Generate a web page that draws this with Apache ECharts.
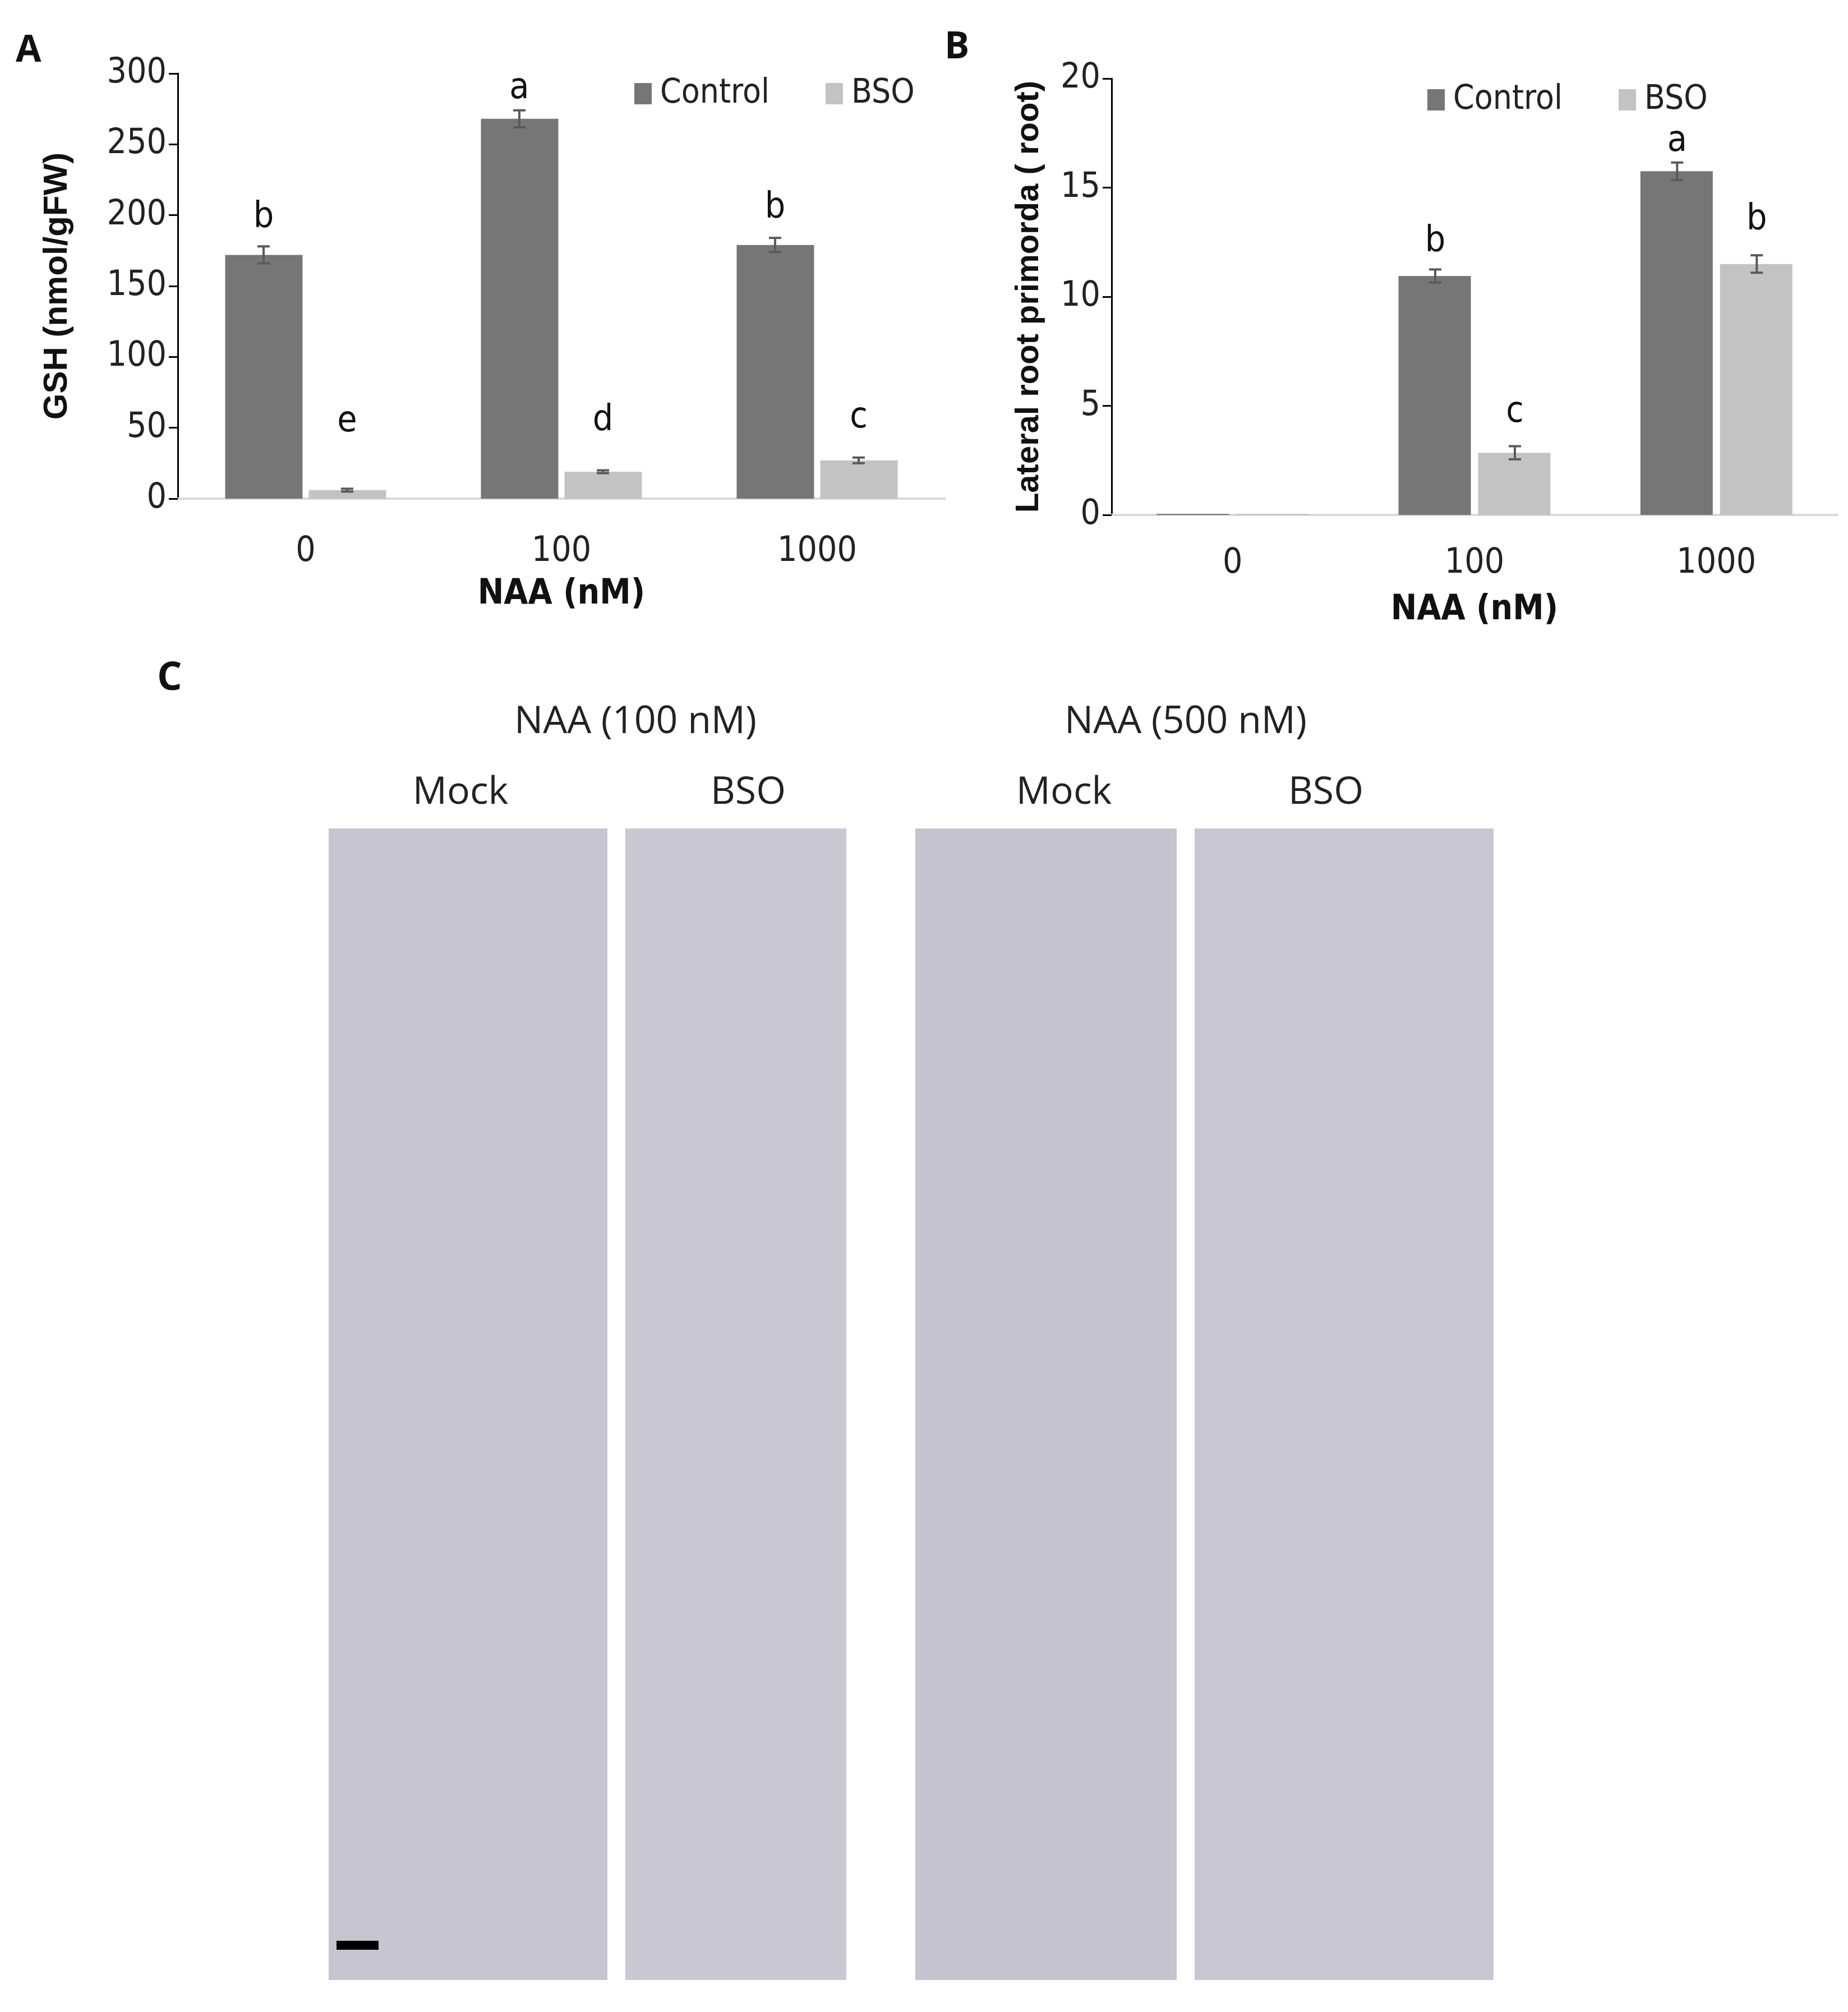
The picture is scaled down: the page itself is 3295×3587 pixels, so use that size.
<!DOCTYPE html>
<html><head><meta charset="utf-8">
<script src="https://cdn.jsdelivr.net/npm/echarts@6/dist/echarts.min.js"></script>
<style>html,body{margin:0;padding:0;background:#fff}#c{width:3295px;height:3587px}</style>
</head><body><div id="c"></div>
<script>
const categories = ['0','100','1000'];
const gshControl = [172, 268, 179];
const gshControlErr = [6, 6, 5];
const gshBSO = [6, 19, 27];
const gshBSOErr = [1, 1, 2];
const gshControlLetters = ['b','a','b'];
const gshBSOLetters = ['e','d','c'];
const gshControlLetterY = [198, 289, 205];
const gshBSOLetterY = [54, 55, 57];
const lrpControl = [0.05, 10.95, 15.75];
const lrpControlErr = [0, 0.3, 0.4];
const lrpBSO = [0.05, 2.85, 11.5];
const lrpBSOErr = [0, 0.3, 0.4];
const lrpControlLetters = ['', 'b', 'a'];
const lrpBSOLetters = ['', 'c', 'b'];
const lrpControlLetterY = [0, 12.5, 17.1];
const lrpBSOLetterY = [0, 4.7, 13.5];

const FONT = "'Liberation Sans Narrow','DejaVu Sans Condensed','Open Sans',sans-serif";
const C1 = '#767676', C2 = '#c3c3c3';

function errSeries(xi, vals, errs, letterY, letters, offset){
  return {
    type:'custom', xAxisIndex:xi, yAxisIndex:xi, z:10, silent:true,
    data: vals.map((v,i)=>[i, v, errs[i], letterY[i]]),
    renderItem:(params, api)=>{
      const i = api.value(0), v = api.value(1), e = api.value(2), ly = api.value(3);
      const letter = letters[i];
      const top = api.coord([i, v+e]), bot = api.coord([i, v-e]), c = api.coord([i, ly]);
      const x = top[0] + offset, hw = 11;
      const children = [];
      if (e > 0) {
        const st = {stroke:'#5a5a5a', lineWidth:4};
        children.push({type:'line', shape:{x1:x,y1:top[1],x2:x,y2:bot[1]}, style:st});
        children.push({type:'line', shape:{x1:x-hw,y1:top[1],x2:x+hw,y2:top[1]}, style:st});
        children.push({type:'line', shape:{x1:x-hw,y1:bot[1],x2:x+hw,y2:bot[1]}, style:st});
      }
      if (letter) children.push({type:'text', style:{text:letter, x:x, y:c[1], align:'center', verticalAlign:'middle', fontSize:64, fontFamily:FONT, fill:'#111'}});
      return {type:'group', children};
    }
  };
}

const chart = echarts.init(document.getElementById('c'));
const yAxisCommon = {
  type:'value', min:0, axisLine:{show:true, lineStyle:{color:'#000', width:3}},
  axisTick:{show:true, length:16, lineStyle:{color:'#000', width:3}},
  splitLine:{show:false},
  axisLabel:{fontSize:62, fontFamily:FONT, color:'#222', margin:20},
  nameLocation:'middle', nameTextStyle:{fontWeight:'bold', fontFamily:"'Liberation Sans',Arial,sans-serif", color:'#111'}
};
const xAxisCommon = {
  type:'category', axisLine:{lineStyle:{color:'#d9d9d9', width:4}}, axisTick:{show:false},
  axisLabel:{fontSize:62, fontFamily:FONT, color:'#222'},
  name:'NAA (nM)', nameLocation:'middle',
  nameTextStyle:{fontSize:62, fontWeight:'bold', fontFamily:FONT, color:'#111'}
};
const legendCommon = {selectedMode:false, itemWidth:31, itemHeight:38, itemGap:100, icon:'rect',
  textStyle:{fontSize:60, fontFamily:FONT, color:'#222', padding:[0,0,0,10]}, data:['Control','BSO']};

chart.setOption({
  animation:false,
  backgroundColor:'#fff',
  grid:[
    {left:317, right:1610, top:131, bottom:2698},
    {left:1982, right:19, top:140, bottom:2669}
  ],
  legend:[
    Object.assign({left:1126, top:132}, legendCommon),
    Object.assign({left:2540, top:143}, legendCommon)
  ],
  xAxis:[
    Object.assign({gridIndex:0, data:categories}, xAxisCommon, {axisLabel:Object.assign({margin:64}, xAxisCommon.axisLabel), nameGap:140}),
    Object.assign({gridIndex:1, data:categories}, xAxisCommon, {axisLabel:Object.assign({margin:56}, xAxisCommon.axisLabel), nameGap:139})
  ],
  yAxis:[
    Object.assign({}, yAxisCommon, {gridIndex:0, max:300, interval:50, name:'GSH (nmol/gFW)', nameGap:185,
      nameTextStyle:Object.assign({fontSize:60}, yAxisCommon.nameTextStyle)}),
    Object.assign({}, yAxisCommon, {gridIndex:1, max:20, interval:5, name:'Lateral root primorda ( root)', nameGap:118,
      nameTextStyle:Object.assign({fontSize:58}, yAxisCommon.nameTextStyle)})
  ],
  series:[
    {name:'Control', type:'bar', xAxisIndex:0, yAxisIndex:0, data:gshControl, barWidth:138, barGap:'8%', itemStyle:{color:C1}},
    {name:'BSO', type:'bar', xAxisIndex:0, yAxisIndex:0, data:gshBSO, barWidth:138, barGap:'8%', itemStyle:{color:C2}},
    {name:'Control', type:'bar', xAxisIndex:1, yAxisIndex:1, data:lrpControl, barWidth:129, barGap:'10%', itemStyle:{color:C1}},
    {name:'BSO', type:'bar', xAxisIndex:1, yAxisIndex:1, data:lrpBSO, barWidth:129, barGap:'10%', itemStyle:{color:C2}},
    errSeries(0,gshControl,gshControlErr,gshControlLetterY,gshControlLetters,-75),
    errSeries(0,gshBSO,gshBSOErr,gshBSOLetterY,gshBSOLetters,74),
    errSeries(1,lrpControl,lrpControlErr,lrpControlLetterY,lrpControlLetters,-70),
    errSeries(1,lrpBSO,lrpBSOErr,lrpBSOLetterY,lrpBSOLetters,72)
  ],
  graphic:[
    {type:'text', left:28, top:58, style:{text:'A', fontSize:66, fontWeight:'bold', fontFamily:"'Open Sans',sans-serif", fill:'#111'}},
    {type:'text', left:1684, top:52, style:{text:'B', fontSize:66, fontWeight:'bold', fontFamily:"'Open Sans',sans-serif", fill:'#111'}},
    {type:'text', left:280, top:1175, style:{text:'C', fontSize:70, fontWeight:'bold', fontFamily:"'Open Sans',sans-serif", fill:'#111'}},
    {type:'text', x:1133, y:1288, style:{text:'NAA (100 nM)', align:'center', verticalAlign:'middle', fontSize:68, fontFamily:"'Open Sans',sans-serif", fill:'#222'}},
    {type:'text', x:2114, y:1288, style:{text:'NAA (500 nM)', align:'center', verticalAlign:'middle', fontSize:68, fontFamily:"'Open Sans',sans-serif", fill:'#222'}},
    {type:'text', x:821, y:1414, style:{text:'Mock', align:'center', verticalAlign:'middle', fontSize:68, fontFamily:"'Open Sans',sans-serif", fill:'#222'}},
    {type:'text', x:1334, y:1414, style:{text:'BSO', align:'center', verticalAlign:'middle', fontSize:68, fontFamily:"'Open Sans',sans-serif", fill:'#222'}},
    {type:'text', x:1897, y:1414, style:{text:'Mock', align:'center', verticalAlign:'middle', fontSize:68, fontFamily:"'Open Sans',sans-serif", fill:'#222'}},
    {type:'text', x:2364, y:1414, style:{text:'BSO', align:'center', verticalAlign:'middle', fontSize:68, fontFamily:"'Open Sans',sans-serif", fill:'#222'}},
    {type:'rect', shape:{x:586, y:1477, width:497, height:2053}, style:{fill:'#c6c5d0'}},
    {type:'rect', shape:{x:1115, y:1477, width:394, height:2053}, style:{fill:'#c9c8d3'}},
    {type:'rect', shape:{x:1632, y:1477, width:466, height:2053}, style:{fill:'#c4c3ce'}},
    {type:'rect', shape:{x:2130, y:1477, width:533, height:2053}, style:{fill:'#c8c7d2'}},
    {type:'rect', shape:{x:600, y:3460, width:75, height:16}, style:{fill:'#000'}}
  ]
});
</script></body></html>
